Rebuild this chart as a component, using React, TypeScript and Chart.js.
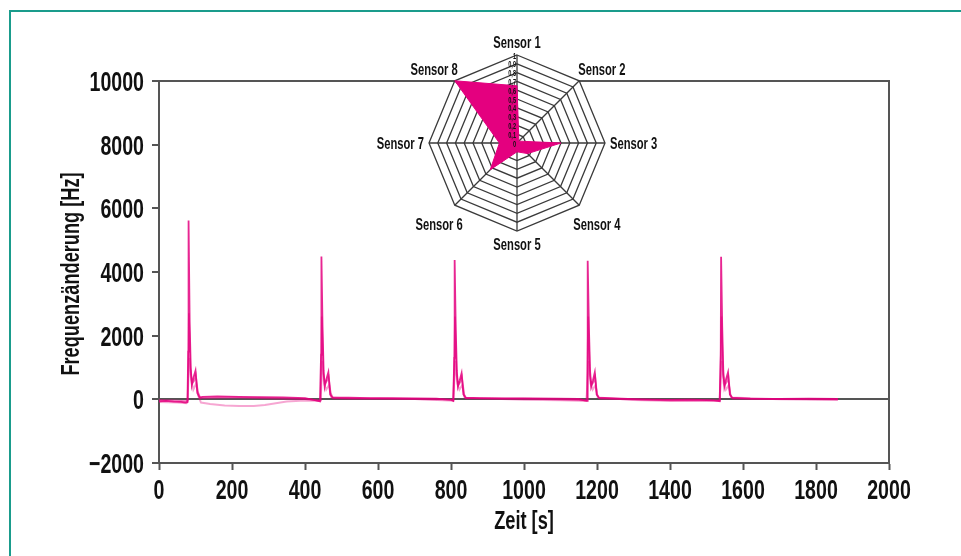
import { useEffect, useRef } from 'react';
import { Chart, registerables } from 'chart.js';

Chart.register(...registerables);

const FONT = "'Liberation Sans', Arial, sans-serif";
const SX = 0.7; // horizontal condensing of the bold sans

// Axis ticks
const timeTicks = [0, 200, 400, 600, 800, 1000, 1200, 1400, 1600, 1800, 2000];
const freqTicks = [-2000, 0, 2000, 4000, 6000, 8000, 10000];
const xTitle = 'Zeit [s]';
const yTitle = 'Frequenzänderung [Hz]';

// Time series (time [s], frequency change [Hz]) – three overlapping sensor traces
const sensorTraceA: [number, number][] = [
  [0, -60], [20, -50], [40, -70], [60, -80], [72, -100], [78, -90], [80, 1500], [81, 5620], [84, 2400], [87, 1000],
  [90, 450], [95, 700], [100, 900], [105, 200], [111, 60], [120, 80], [160, 90], [220, 80], [280, 70], [340, 60],
  [400, 40], [430, -30], [441, -60], [444, 1400], [445, 4490], [448, 2300], [451, 900], [454, 400], [459, 650], [464, 850],
  [469, 150], [475, 60], [520, 50], [580, 40], [640, 40], [700, 30], [760, 20], [800, -20], [806, -50], [809, 1300],
  [810, 4380], [813, 2200], [816, 900], [819, 400], [824, 600], [829, 820], [834, 150], [840, 50], [880, 40], [950, 30],
  [1020, 30], [1090, 20], [1150, 10], [1168, -40], [1173, -50], [1174, 1300], [1175, 4350], [1178, 2200], [1181, 900], [1184, 400],
  [1189, 600], [1194, 850], [1199, 150], [1205, 50], [1250, 30], [1320, 0], [1390, -20], [1460, -10], [1520, -30], [1536, -60],
  [1539, 1400], [1540, 4480], [1543, 2300], [1546, 900], [1549, 400], [1554, 650], [1559, 850], [1564, 150], [1570, 50], [1620, 20],
  [1700, 10], [1780, 20], [1860, 10],
];

const sensorTraceB: [number, number][] = [
  [0, -20], [40, -30], [72, -60], [79, -40], [82, 2700], [86, 900], [91, 500], [97, 600], [101, 750], [106, 250],
  [113, 40], [200, 60], [300, 30], [400, 10], [441, -40], [443, -30], [446, 2600], [450, 800], [455, 500], [461, 600],
  [465, 700], [470, 200], [477, 30], [600, 20], [800, -10], [807, -30], [811, 2600], [815, 800], [820, 450], [826, 550],
  [830, 700], [836, 150], [842, 30], [1000, 20], [1172, -30], [1176, 2600], [1180, 800], [1185, 450], [1191, 550], [1195, 700],
  [1200, 150], [1207, 20], [1400, -30], [1537, -40], [1541, 2600], [1545, 800], [1550, 450], [1556, 550], [1560, 700], [1565, 150],
  [1572, 20], [1860, 0],
];

const sensorTraceC: [number, number][] = [
  [0, -80], [50, -100], [75, -120], [78, -60], [83, 1300], [88, 600], [94, 300], [102, 500], [108, 100], [115, -100],
  [140, -150], [180, -190], [220, -210], [260, -210], [290, -180], [320, -120], [350, -70], [400, -40], [440, -50], [443, -40],
  [447, 1200], [452, 500], [458, 300], [466, 450], [472, 60], [520, 30], [700, 10], [806, -40], [812, 1200], [817, 500],
  [823, 300], [831, 450], [837, 50], [1000, -10], [1100, -30], [1171, -50], [1177, 1200], [1182, 500], [1188, 300], [1196, 450],
  [1202, 60], [1300, -20], [1400, -50], [1536, -40], [1542, 1200], [1547, 500], [1553, 300], [1561, 450], [1567, 60], [1700, 0],
  [1860, -20],
];

// Radar inset
const sensorLabels = ['Sensor 1', 'Sensor 2', 'Sensor 3', 'Sensor 4', 'Sensor 5', 'Sensor 6', 'Sensor 7', 'Sensor 8'];
const radarValues = [0.65, 0.03, 0.5, 0.17, 0.1, 0.43, 0.2, 1.0];
const radarTickValues = [0, 0.1, 0.2, 0.3, 0.4, 0.5, 0.6, 0.7, 0.8, 0.9, 1];
const radarTickLabels = ['0', '0,1', '0,2', '0,3', '0,4', '0,5', '0,6', '0,7', '0,8', '0,9', '1'];

const AXIS = '#555555';
const MAGENTA = '#e4007f';
const TEXT = '#111111';

function drawText(
  ctx: CanvasRenderingContext2D,
  text: string,
  x: number,
  y: number,
  size: number,
  align: CanvasTextAlign,
  rotate = 0,
  sx = SX,
) {
  ctx.save();
  ctx.translate(x, y);
  if (rotate) ctx.rotate(rotate);
  ctx.scale(sx, 1);
  ctx.font = `bold ${size}px ${FONT}`;
  ctx.fillStyle = TEXT;
  ctx.textAlign = align;
  ctx.textBaseline = 'alphabetic';
  ctx.fillText(text, 0, 0);
  ctx.restore();
}

const boxPlugin = {
  id: 'box',
  afterDraw(chart: any) {
    const { ctx, chartArea, scales } = chart;
    const { left, top, right, bottom } = chartArea;
    ctx.save();
    ctx.strokeStyle = AXIS;
    ctx.lineWidth = 2;
    ctx.beginPath();
    ctx.moveTo(left, top);
    ctx.lineTo(right, top);
    ctx.lineTo(right, bottom);
    ctx.stroke();
    ctx.restore();

    const xs = scales.x;
    const ys = scales.y;
    xs.ticks.forEach((t: any) => {
      drawText(ctx, String(t.value), xs.getPixelForValue(t.value), bottom + 36, 28, 'center');
    });
    ys.ticks.forEach((t: any) => {
      const v = t.value;
      const label = v < 0 ? '\u2212' + Math.abs(v) : String(v);
      drawText(ctx, label, left - 15, ys.getPixelForValue(v) + 10, 28, 'right');
    });
    drawText(ctx, xTitle, (left + right) / 2, bottom + 66, 26, 'center');
    drawText(ctx, yTitle, left - 80, (top + bottom) / 2 + 2, 26, 'center', -Math.PI / 2);
  },
};

const radarTextPlugin = {
  id: 'radarText',
  afterDatasetsDraw(chart: any) {
    const r = chart.scales.r;
    const ctx = chart.ctx;
    const cx = r.xCenter;
    const cy = r.yCenter;
    radarTickValues.forEach((v, i) => {
      const d = r.getDistanceFromCenterForValue(v);
      drawText(ctx, radarTickLabels[i], cx - 1, cy - d + 3.5, 9, 'right', 0, 0.62);
    });
    sensorLabels.forEach((label, i) => {
      const p = r.getPointPosition(i, r.drawingArea);
      const dx = p.x - cx;
      const dy = p.y - cy;
      let x = p.x;
      let y = p.y;
      let align: CanvasTextAlign = 'center';
      if (Math.abs(dx) < 1) {
        y = dy < 0 ? p.y - 7 : p.y + 19;
      } else if (Math.abs(dy) < 1) {
        align = dx > 0 ? 'left' : 'right';
        x = p.x + (dx > 0 ? 5 : -5);
        y = p.y + 6;
      } else if (dy < 0) {
        align = dx > 0 ? 'left' : 'right';
        x = p.x + (dx > 0 ? -1 : 3);
        y = p.y - 6;
      } else {
        align = dx > 0 ? 'left' : 'right';
        x = p.x + (dx > 0 ? -6 : 8);
        y = p.y + 25;
      }
      drawText(ctx, label, x, y, 16, align);
    });
  },
};

export default function App() {
  const mainRef = useRef<HTMLCanvasElement>(null);
  const radarRef = useRef<HTMLCanvasElement>(null);

  useEffect(() => {
    const toPts = (arr: [number, number][]) => arr.map(([x, y]) => ({ x, y }));
    const main = new Chart(mainRef.current!, {
      type: 'line',
      data: {
        datasets: [
          { data: toPts(sensorTraceC), borderColor: 'rgba(228,0,127,0.35)', borderWidth: 2, pointRadius: 0, tension: 0 },
          { data: toPts(sensorTraceB), borderColor: 'rgba(228,0,127,0.55)', borderWidth: 1.8, pointRadius: 0, tension: 0 },
          { data: toPts(sensorTraceA), borderColor: 'rgba(228,0,127,0.85)', borderWidth: 1.8, pointRadius: 0, tension: 0 },
        ],
      },
      options: {
        responsive: false,
        animation: false,
        layout: { padding: { left: 0, top: 81, right: 72, bottom: 0 } },
        plugins: { legend: { display: false }, tooltip: { enabled: false } },
        scales: {
          x: {
            type: 'linear',
            min: 0,
            max: 2000,
            afterBuildTicks: (s: any) => { s.ticks = timeTicks.map((v) => ({ value: v })); },
            afterFit: (s: any) => { s.height = 93; },
            ticks: { display: false },
            grid: { drawOnChartArea: false, drawTicks: true, tickLength: 7, tickColor: AXIS, tickWidth: 2 },
            border: { display: true, color: AXIS, width: 2 },
          },
          y: {
            type: 'linear',
            min: -2000,
            max: 10000,
            afterBuildTicks: (s: any) => { s.ticks = freqTicks.map((v) => ({ value: v })); },
            afterFit: (s: any) => { s.width = 159; },
            ticks: { display: false },
            grid: {
              drawOnChartArea: true,
              drawTicks: true,
              tickLength: 7,
              tickColor: AXIS,
              tickWidth: 2,
              color: (c: any) => (c.tick && c.tick.value === 0 ? AXIS : 'rgba(0,0,0,0)'),
              lineWidth: 2,
            },
            border: { display: true, color: AXIS, width: 2 },
          },
        },
      },
      plugins: [boxPlugin],
    } as any);

    const radar = new Chart(radarRef.current!, {
      type: 'radar',
      data: {
        labels: sensorLabels,
        datasets: [
          {
            data: radarValues,
            fill: true,
            backgroundColor: MAGENTA,
            borderColor: MAGENTA,
            borderWidth: 1,
            pointRadius: 0,
          },
        ],
      },
      options: {
        responsive: false,
        animation: false,
        layout: { padding: { top: 22, bottom: 22, left: 0, right: 0 } },
        plugins: { legend: { display: false }, tooltip: { enabled: false } },
        scales: {
          r: {
            min: 0,
            max: 1,
            beginAtZero: true,
            backgroundColor: '#ffffff',
            ticks: { stepSize: 0.1, display: false },
            grid: { color: '#3a3a3a', lineWidth: 1.3, circular: false },
            angleLines: { color: '#3a3a3a', lineWidth: 1.3 },
            pointLabels: { display: false },
          },
        },
      },
      plugins: [radarTextPlugin],
    } as any);

    return () => {
      main.destroy();
      radar.destroy();
    };
  }, []);

  return (
    <div style={{ position: 'absolute', left: 0, top: 0, width: 961, height: 556, background: '#fff', overflow: 'hidden' }}>
      <div
        style={{
          position: 'absolute',
          left: 9,
          top: 10,
          width: 952,
          height: 546,
          borderTop: '2px solid #1a9c8c',
          borderLeft: '2px solid #1a9c8c',
          boxSizing: 'border-box',
        }}
      />
      <canvas ref={mainRef} width={961} height={556} style={{ position: 'absolute', left: 0, top: 0 }} />
      <canvas ref={radarRef} width={300} height={220} style={{ position: 'absolute', left: 367, top: 33 }} />
    </div>
  );
}
